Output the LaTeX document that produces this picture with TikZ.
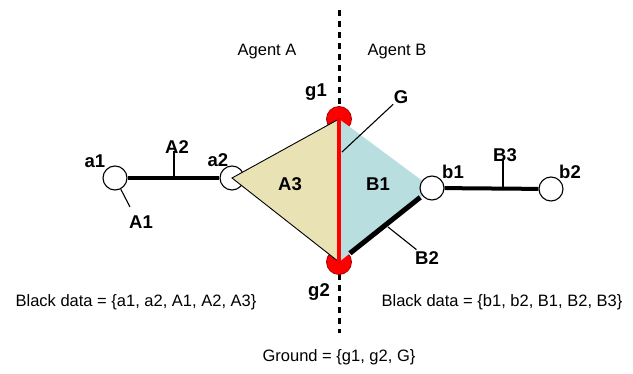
\documentclass[tikz,border=0pt]{standalone}
\usepackage{fontspec}
\setmainfont{Liberation Sans}
\usepackage{tikz}
\usetikzlibrary{positioning}

\definecolor{sandfill}{RGB}{232,226,180}
\definecolor{icefill}{RGB}{184,222,224}
\definecolor{groundred}{RGB}{255,0,0}

\begin{document}
\begin{tikzpicture}[x=1pt, y=-1pt,
    dot/.style={draw, circle, fill=white, line width=1.1pt, minimum size=24pt, inner sep=0pt},
    gdot/.style={draw=red!65!black, circle, fill=groundred, line width=0.8pt, minimum size=25pt, inner sep=0pt},
    lbl/.style={font=\bfseries\fontsize{18.5}{19}\selectfont, inner sep=0.5pt},
    txt/.style={font=\fontsize{16.5}{18}\selectfont, inner sep=0pt},
    edge/.style={line width=4pt},
    leader/.style={line width=1.1pt},
    divider/.style={line width=3pt, dash pattern=on 6.5pt off 4.5pt}
  ]
  \useasboundingbox (0,0) rectangle (633,374);

  % Divider
  \coordinate (top) at (339,10);
  \coordinate (bot) at (339,333);
  \draw [divider] (top) -- (bot);

  % Agent A side
  \node (a1) [dot] at (115,178) {};
  \node (a2) [dot] at (232,178) {};
  \draw [edge] (a1) -- (a2);

  % Ground points
  \node (g1) [gdot] at (339,119) {};
  \node (g2) [gdot] at (339,262) {};
  \coordinate (pb1) at (432,188);

  % Faces
  \filldraw [fill=sandfill, line width=0.9pt] (a2.center) -- (g1.center) -- (g2.center) -- cycle;
  \fill [icefill] (g1.center) -- (pb1) -- (g2.center) -- cycle;
  \draw [line width=4.5pt, groundred] (g1.center) -- (g2.center);
  \draw [line width=5pt, shorten <=14pt, shorten >=15pt] (g2.center) -- (pb1);

  % Agent B side
  \node (b1) [dot] at (pb1) {};
  \node (b2) [dot] at (551,189) {};
  \draw [edge] (b1) -- (b2);

  % Labels
  \node (agA) [txt] at (267,52) {Agent A};
  \node (agB) [txt] at (397,52) {Agent B};
  \node [lbl] at (95,161) {a1};
  \node [lbl] at (218,160) {a2};
  \node [lbl] at (316,92) {g1};
  \node [lbl] at (319,292) {g2};
  \node [lbl] at (453,172) {b1};
  \node [lbl] at (570,172) {b2};
  \node (A1) [lbl] at (141,222) {A1};
  \node (A2) [lbl] at (177,147) {A2};
  \node (A3) [lbl] at (290,184) {A3};
  \node (B1) [lbl] at (378,184) {B1};
  \node (B2) [lbl] at (427,258) {B2};
  \node (B3) [lbl] at (505,155) {B3};
  \node (G) [lbl] at (401,97) {G};

  % Leaders
  \coordinate (A1end) at (130,207);
  \coordinate (A2foot) at (174,178);
  \coordinate (B3foot) at (503,189);
  \coordinate (Gpt) at (342,152);
  \coordinate (B2pt) at (388,227);
  \draw [leader] (a1) -- (A1end);
  \draw [leader] (A2foot) -- ([yshift=3pt]A2foot |- A2.south);
  \draw [leader] (B3foot) -- ([yshift=3pt]B3foot |- B3.south);
  \draw [leader] (Gpt) -- (G);
  \draw [leader, shorten >=2pt] (B2pt) -- (B2);

  % Sets
  \node (setA) [txt] at (136,302) {Black data = \{a1, a2, A1, A2, A3\}};
  \node (setB) [txt] at (502,302) {Black data = \{b1, b2, B1, B2, B3\}};
  \node (setG) [txt] at (339,357) {Ground = \{g1, g2, G\}};
\end{tikzpicture}
\end{document}
